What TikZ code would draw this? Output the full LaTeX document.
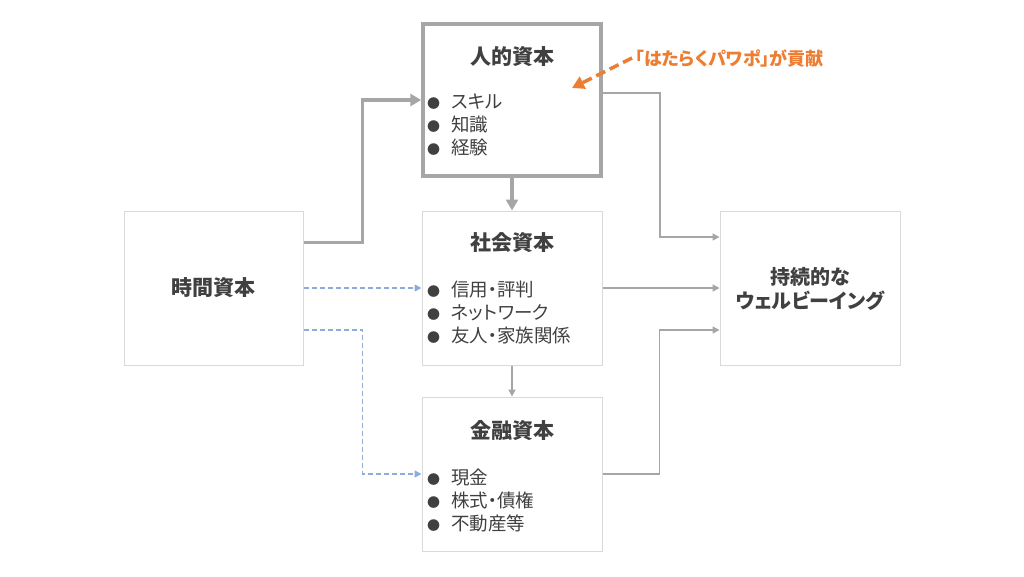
\documentclass[tikz,border=0pt]{standalone}
\usepackage{fontspec}
\setmainfont{Noto Sans CJK JP}[RawFeature=+palt]
\usetikzlibrary{arrows.meta}
\definecolor{txt}{HTML}{404040}
\definecolor{ln}{HTML}{A6A6A6}
\definecolor{bx}{HTML}{D9D9D9}
\definecolor{dsh}{HTML}{8FAADC}
\definecolor{org}{HTML}{ED7D31}
\newcommand{\blt}{\makebox[24pt][l]{\fontsize{13}{13}\selectfont●}}

\begin{document}
\begin{tikzpicture}[x=1pt,y=-1pt,
    box/.style={draw=bx,line width=1pt,minimum width=180pt,minimum height=154pt,inner sep=0pt},
    ttl/.style={text=txt,font=\fontsize{21}{24}\selectfont\bfseries,align=center},
    lst/.style={text=txt,font=\fontsize{18.5}{23}\selectfont,align=left,anchor=west,inner sep=0pt},
    thk/.style={draw=ln,line width=3.5pt,-{Triangle[length=11pt,width=12pt]}},
    thn/.style={draw=ln,line width=1.5pt,-{Triangle[length=7pt,width=7pt]}},
    dsh/.style={draw=dsh,line width=1.5pt,dash pattern=on 5pt off 3pt,-{Triangle[length=7pt,width=7pt]}}]
      \useasboundingbox (0,0) rectangle (1024,576);
      \node[box,draw=ln,line width=3.5pt,minimum width=178pt,minimum height=152pt] (human) at (512,100) {};
      \node[box] (social) at (512,288) {};
      \node[box] (money) at (512,474) {};
      \node[box,minimum width=179pt] (time) at (213.5,288) {};
      \node[box] (wb) at (810,288) {};

      \node[ttl] (humanT) at (512,57) {人的資本};
      \node[ttl] (socialT) at (512,243) {社会資本};
      \node[ttl] (moneyT) at (512,431) {金融資本};
      \node[ttl] (timeT) at (time) {時間資本};
      \node[ttl,font=\fontsize{20}{24}\selectfont\bfseries] (wbT) at (810,289) {持続的な\\ウェルビーイング};

      \node[lst] (humanL) at (427,125) {\blt スキル\\\blt 知識\\\blt 経験};
      \node[lst] (socialL) at (427,312) {\blt 信用・評判\\\blt ネットワーク\\\blt 友人・家族関係};
      \node[lst] (moneyL) at (427,500) {\blt 現金\\\blt 株式・債権\\\blt 不動産等};

      \node[text=org,font=\fontsize{18}{20}\selectfont\bfseries,anchor=west] (contrib) at (632,58) {「はたらくパワポ」が貢献};
      \coordinate (tip) at (572,88);

      \draw[thk] ([yshift=-32pt]time.north east) -- ++(59,0) |- (human.west);
      \draw[thk] (human.south) -- (social.north);
      \draw[thn] (social.south) -- (money.north);
      \draw[dsh] (time.east) -- (social.west);
      \draw[dsh] ([yshift=-42pt]time.east) -- ++(59,0) |- (money.west);
      \draw[thn] ([yshift=7pt]human.east) -- ++(57,0) |- ([yshift=51pt]wb.west);
      \draw[thn] (social.east) -- (wb.west);
      \draw[thn] (money.east) -- ++(57,0) |- ([yshift=-42pt]wb.west);
      \draw[org,line width=3.5pt,dash pattern=on 10pt off 5pt,-{Triangle[length=12pt,width=13pt]}] (contrib.west) -- (tip);
\end{tikzpicture}
\end{document}
